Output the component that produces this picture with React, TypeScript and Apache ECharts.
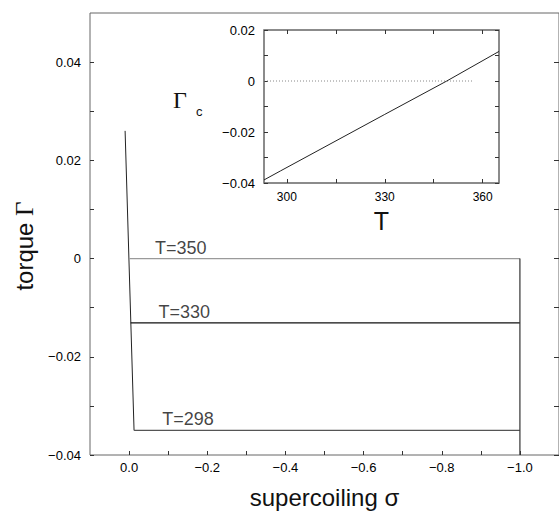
import React, { useEffect, useRef } from 'react';
import * as echarts from 'echarts';

// Main plot axes
const sigmaTicks = [0, -0.1, -0.2, -0.3, -0.4, -0.5, -0.6, -0.7, -0.8, -0.9, -1.0];
const sigmaLabels = [0, -0.2, -0.4, -0.6, -0.8, -1.0];
const torqueTicks = [-0.04, -0.03, -0.02, -0.01, 0, 0.01, 0.02, 0.03, 0.04];
const torqueLabels = [-0.04, -0.02, 0, 0.02, 0.04];

// Plateaus for each temperature
const temperatures = [350, 330, 298];
const plateauTorque = [0, -0.0131, -0.035];
const plateauStart = [0.0003, -0.004, -0.0127];
const plateauEnd = -1.0;
const labelSigma = [-0.132, -0.141, -0.151];
const plateauColors = ['#9a9a9a', '#111111', '#555555'];

// Steep initial ramp and closing wall
const rampSigma = [0.0102, -0.0127];
const rampTorque = [0.026, -0.035];
const wallSigma = [-1.0, -1.0];
const wallTorque = [0, -0.04];

// Inset: critical torque vs temperature
const insetT = [293, 298, 330, 349, 365];
const insetGamma = [-0.0388, -0.0353, -0.0131, 0, 0.0116];
const insetZeroT = [293, 357];
const insetTTicks = [300, 315, 330, 345, 360];
const insetTLabels = [300, 330, 360];
const insetGammaTicks = [-0.04, -0.03, -0.02, -0.01, 0, 0.01, 0.02];
const insetGammaLabels = [-0.04, -0.02, 0, 0.02];

const SANS = '"Liberation Sans", Arial, Helvetica, sans-serif';
const SERIF = '"Liberation Serif", "DejaVu Serif", serif';

function fmt(v: number, digits: number, zero: string): string {
  if (Math.abs(v) < 1e-9) return zero;
  const s = Math.abs(v).toFixed(digits);
  return v < 0 ? '\u2212' + s : s;
}

export default function App() {
  const ref = useRef<HTMLDivElement>(null);

  useEffect(() => {
    document.body.style.margin = '0';
    if (!ref.current) return;
    const chart = echarts.init(ref.current, undefined, { renderer: 'svg' });

    const tickStyle = { color: '#333', width: 1 };
    const labelStyle = { fontFamily: SANS, fontSize: 13, color: '#000' };
    const noLine = { show: false, onZero: false };

    const option: any = {
      animation: false,
      backgroundColor: '#ffffff',
      grid: [
        { left: 90, top: 13, right: -3, bottom: 57, show: true, borderColor: '#666', borderWidth: 1, backgroundColor: 'transparent' },
        { left: 264, top: 30, width: 235, height: 153, show: true, borderColor: '#666', borderWidth: 1.5, backgroundColor: '#ffffff', z: 5 },
      ],
      xAxis: [
        {
          gridIndex: 0, type: 'value', min: -1.1, max: 0.1, inverse: true, position: 'bottom',
          name: 'supercoiling \u03c3', nameLocation: 'middle', nameGap: 30,
          nameTextStyle: { fontFamily: SANS, fontSize: 24, color: '#111' },
          axisLine: noLine,
          splitLine: { show: false },
          axisTick: { show: true, inside: true, length: 4, lineStyle: tickStyle, customValues: sigmaTicks },
          axisLabel: { ...labelStyle, margin: 6, customValues: sigmaLabels, formatter: (v: number) => fmt(v, 1, '0.0') },
        },
        {
          gridIndex: 1, type: 'value', min: 293, max: 365, position: 'bottom',
          name: 'T', nameLocation: 'middle', nameGap: 25,
          nameTextStyle: { fontFamily: SANS, fontSize: 25, color: '#111' },
          axisLine: noLine,
          splitLine: { show: false },
          axisTick: { show: true, inside: true, length: 4, lineStyle: tickStyle, customValues: insetTTicks },
          axisLabel: { ...labelStyle, fontSize: 12, margin: 8, customValues: insetTLabels, formatter: (v: number) => String(v) },
          z: 6,
        },
        {
          gridIndex: 1, type: 'value', min: 293, max: 365, position: 'top',
          axisLine: noLine,
          splitLine: { show: false },
          axisTick: { show: true, inside: true, length: 4, lineStyle: tickStyle, customValues: insetTTicks },
          axisLabel: { show: false },
          z: 6,
        },
      ],
      yAxis: [
        {
          gridIndex: 0, type: 'value', min: -0.04, max: 0.05, position: 'left',
          axisLine: noLine,
          splitLine: { show: false },
          axisTick: { show: true, inside: true, length: 4, lineStyle: tickStyle, customValues: torqueTicks },
          axisLabel: { ...labelStyle, margin: 9, customValues: torqueLabels, formatter: (v: number) => fmt(v, 2, '0') },
        },
        {
          gridIndex: 0, type: 'value', min: -0.04, max: 0.05, position: 'right',
          axisLine: noLine,
          splitLine: { show: false },
          axisTick: { show: true, inside: true, length: 5, lineStyle: tickStyle, customValues: torqueTicks },
          axisLabel: { show: false },
        },
        {
          gridIndex: 1, type: 'value', min: -0.04, max: 0.02, position: 'left',
          axisLine: noLine,
          splitLine: { show: false },
          axisTick: { show: true, inside: true, length: 4, lineStyle: tickStyle, customValues: insetGammaTicks },
          axisLabel: { ...labelStyle, margin: 9, customValues: insetGammaLabels, formatter: (v: number) => fmt(v, 2, '0') },
          z: 6,
        },
        {
          gridIndex: 1, type: 'value', min: -0.04, max: 0.02, position: 'right',
          axisLine: noLine,
          splitLine: { show: false },
          axisTick: { show: true, inside: true, length: 4, lineStyle: tickStyle, customValues: insetGammaTicks },
          axisLabel: { show: false },
          z: 6,
        },
      ],
      series: [
        {
          type: 'line', xAxisIndex: 0, yAxisIndex: 0, symbol: 'none',
          data: rampSigma.map((s, i) => [s, rampTorque[i]]),
          lineStyle: { color: '#222', width: 1 },
        },
        ...temperatures.map((t, i) => ({
          type: 'line', name: 'T=' + t, xAxisIndex: 0, yAxisIndex: 0, symbol: 'none',
          data: [[plateauStart[i], plateauTorque[i]], [plateauEnd, plateauTorque[i]]],
          lineStyle: { color: plateauColors[i], width: 1.2 },
        })),
        {
          type: 'line', xAxisIndex: 0, yAxisIndex: 0, symbol: 'none',
          data: wallSigma.map((s, i) => [s, wallTorque[i]]),
          lineStyle: { color: '#333', width: 1.2 },
        },
        {
          type: 'scatter', xAxisIndex: 0, yAxisIndex: 0, symbolSize: 0,
          data: temperatures.map((t, i) => [labelSigma[i], plateauTorque[i], t]),
          label: {
            show: true, position: 'top', distance: 2,
            formatter: (p: any) => 'T=' + p.value[2],
            fontFamily: SANS, fontSize: 18, color: '#111',
          },
        },
        {
          type: 'line', xAxisIndex: 1, yAxisIndex: 2, symbol: 'none', z: 7,
          data: insetZeroT.map((t) => [t, 0]),
          lineStyle: { color: '#888', width: 1, type: [1, 2] },
        },
        {
          type: 'line', xAxisIndex: 1, yAxisIndex: 2, symbol: 'none', z: 7,
          data: insetT.map((t, i) => [t, insetGamma[i]]),
          lineStyle: { color: '#222', width: 1 },
        },
      ],
      graphic: [
        {
          type: 'text', x: 24, y: 246, rotation: Math.PI / 2,
          style: {
            text: 'torque {g|\u0393}',
            rich: { g: { fontFamily: SERIF, fontSize: 25, fill: '#111' } },
            fontFamily: SANS, fontSize: 24, fill: '#111', align: 'center', verticalAlign: 'middle',
          },
        },
        {
          type: 'text', x: 173, y: 100,
          style: { text: '\u0393', fontFamily: SERIF, fontSize: 24, fill: '#111', align: 'left', verticalAlign: 'middle' },
        },
        {
          type: 'text', x: 196, y: 111.5,
          style: { text: 'c', fontFamily: SANS, fontSize: 13, fill: '#111', align: 'left', verticalAlign: 'middle' },
        },
      ],
    };

    chart.setOption(option);
    return () => chart.dispose();
  }, []);

  return <div ref={ref} style={{ width: 559, height: 514 }} />;
}
